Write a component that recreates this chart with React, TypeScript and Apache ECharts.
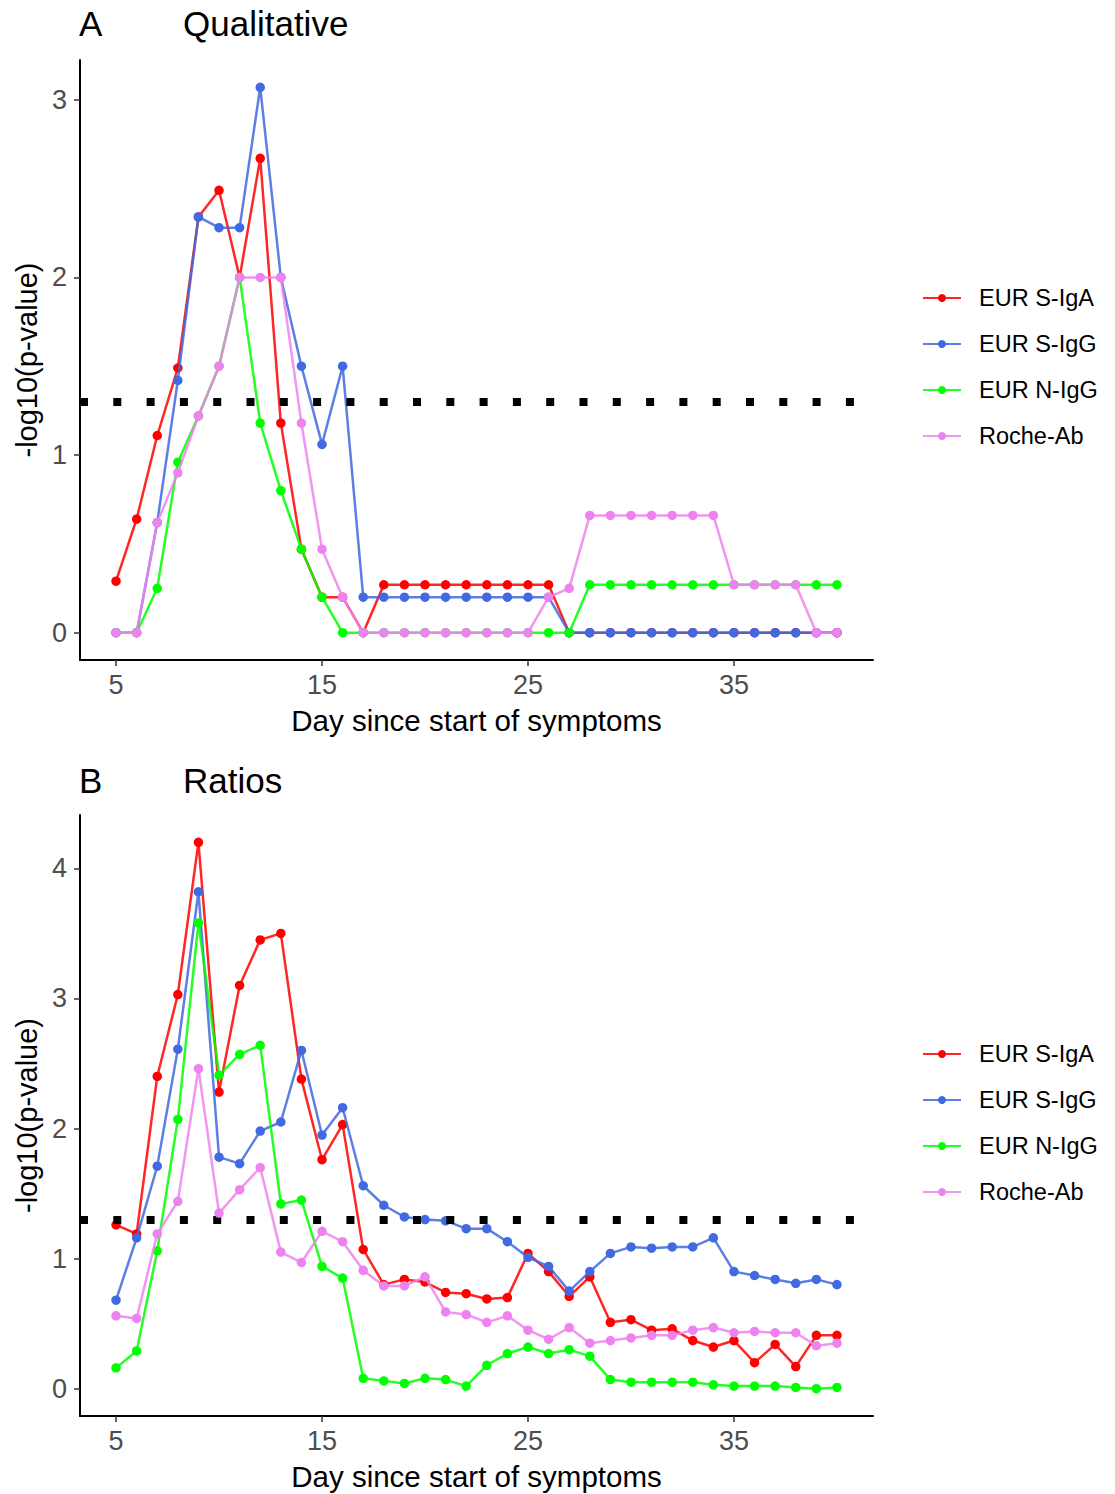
import React, { useEffect, useRef } from "react";
import * as echarts from "echarts";

const days = [5, 6, 7, 8, 9, 10, 11, 12, 13, 14, 15, 16, 17, 18, 19, 20, 21, 22, 23, 24, 25, 26, 27, 28, 29, 30, 31, 32, 33, 34, 35, 36, 37, 38, 39, 40];

const seriesNames = ["EUR S-IgA", "EUR S-IgG", "EUR N-IgG", "Roche-Ab"];
const seriesColors = ["#FF0000", "#4169E1", "#00FF00", "#EE82EE"];

// Panel A: Qualitative
const qualSIgA = [0.29, 0.64, 1.11, 1.49, 2.34, 2.49, 2.0, 2.67, 1.18, 0.47, 0.2, 0.2, 0, 0.27, 0.27, 0.27, 0.27, 0.27, 0.27, 0.27, 0.27, 0.27, 0, 0, 0, 0, 0, 0, 0, 0, 0, 0, 0, 0, 0, 0];
const qualSIgG = [0, 0, 0.62, 1.42, 2.34, 2.28, 2.28, 3.07, 2.0, 1.5, 1.06, 1.5, 0.2, 0.2, 0.2, 0.2, 0.2, 0.2, 0.2, 0.2, 0.2, 0.2, 0, 0, 0, 0, 0, 0, 0, 0, 0, 0, 0, 0, 0, 0];
const qualNIgG = [0, 0, 0.25, 0.96, 1.22, 1.5, 2.0, 1.18, 0.8, 0.47, 0.2, 0, 0, 0, 0, 0, 0, 0, 0, 0, 0, 0, 0, 0.27, 0.27, 0.27, 0.27, 0.27, 0.27, 0.27, 0.27, 0.27, 0.27, 0.27, 0.27, 0.27];
const qualRoche = [0, 0, 0.62, 0.9, 1.22, 1.5, 2.0, 2.0, 2.0, 1.18, 0.47, 0.2, 0, 0, 0, 0, 0, 0, 0, 0, 0, 0.2, 0.25, 0.66, 0.66, 0.66, 0.66, 0.66, 0.66, 0.66, 0.27, 0.27, 0.27, 0.27, 0, 0];

// Panel B: Ratios
const ratioSIgA = [1.26, 1.19, 2.4, 3.03, 4.2, 2.28, 3.1, 3.45, 3.5, 2.38, 1.76, 2.03, 1.07, 0.8, 0.84, 0.82, 0.74, 0.73, 0.69, 0.7, 1.04, 0.9, 0.71, 0.86, 0.51, 0.53, 0.45, 0.46, 0.37, 0.32, 0.37, 0.2, 0.34, 0.17, 0.41, 0.41];
const ratioSIgG = [0.68, 1.16, 1.71, 2.61, 3.82, 1.78, 1.73, 1.98, 2.05, 2.6, 1.95, 2.16, 1.56, 1.41, 1.32, 1.3, 1.29, 1.23, 1.23, 1.13, 1.01, 0.94, 0.75, 0.9, 1.04, 1.09, 1.08, 1.09, 1.09, 1.16, 0.9, 0.87, 0.84, 0.81, 0.84, 0.8];
const ratioNIgG = [0.16, 0.29, 1.06, 2.07, 3.58, 2.41, 2.57, 2.64, 1.42, 1.45, 0.94, 0.85, 0.08, 0.06, 0.04, 0.08, 0.07, 0.02, 0.18, 0.27, 0.32, 0.27, 0.3, 0.25, 0.07, 0.05, 0.05, 0.05, 0.05, 0.03, 0.02, 0.02, 0.02, 0.01, 0.0, 0.01];
const ratioRoche = [0.56, 0.54, 1.19, 1.44, 2.46, 1.35, 1.53, 1.7, 1.05, 0.97, 1.21, 1.13, 0.91, 0.79, 0.79, 0.86, 0.59, 0.57, 0.51, 0.56, 0.45, 0.38, 0.47, 0.35, 0.37, 0.39, 0.41, 0.41, 0.45, 0.47, 0.43, 0.44, 0.43, 0.43, 0.33, 0.35];

const xTicks = [5, 15, 25, 35];
const yTicksA = [0, 1, 2, 3];
const yTicksB = [0, 1, 2, 3, 4];
const threshold = 1.301;

const panelTitles = [
  { letter: "A", title: "Qualitative" },
  { letter: "B", title: "Ratios" },
];

const FONT = "'Liberation Sans', Arial, sans-serif";

function buildOption() {
  const panels = [
    { values: [qualSIgA, qualSIgG, qualNIgG, qualRoche], yMin: -0.1535, yMax: 3.2235, yTicks: yTicksA, top: 60, height: 600 },
    { values: [ratioSIgA, ratioSIgG, ratioNIgG, ratioRoche], yMin: -0.21, yMax: 4.41, yTicks: yTicksB, top: 815, height: 601 },
  ];

  const grid: any[] = [];
  const xAxis: any[] = [];
  const yAxis: any[] = [];
  const series: any[] = [];
  const legend: any[] = [];
  const title: any[] = [];

  panels.forEach((p, pi) => {
    grid.push({ left: 80, top: p.top, width: 793, height: p.height, containLabel: false });
    xAxis.push({
      type: "value",
      gridIndex: pi,
      min: 3.25,
      max: 41.75,
      name: "Day since start of symptoms",
      nameLocation: "middle",
      nameGap: 45,
      nameTextStyle: { fontSize: 29.5, color: "#000", fontFamily: FONT },
      axisLine: { show: true, onZero: false, lineStyle: { color: "#000", width: 2 } },
      axisTick: { show: true, length: 6, customValues: xTicks, lineStyle: { color: "#333", width: 1.5 } },
      axisLabel: { show: true, customValues: xTicks, fontSize: 27, color: "#4D4D4D", fontFamily: FONT, margin: 11 },
      splitLine: { show: false },
    });
    yAxis.push({
      type: "value",
      gridIndex: pi,
      min: p.yMin,
      max: p.yMax,
      name: "-log10(p-value)",
      nameLocation: "middle",
      nameGap: 37,
      nameTextStyle: { fontSize: 29, color: "#000", fontFamily: FONT },
      axisLine: { show: true, onZero: false, lineStyle: { color: "#000", width: 2 } },
      axisTick: { show: true, length: 6, customValues: p.yTicks, lineStyle: { color: "#333", width: 1.5 } },
      axisLabel: { show: true, customValues: p.yTicks, fontSize: 27, color: "#4D4D4D", fontFamily: FONT, margin: 13 },
      splitLine: { show: false },
    });
    p.values.forEach((vals, si) => {
      series.push({
        type: "line",
        name: seriesNames[si],
        xAxisIndex: pi,
        yAxisIndex: pi,
        data: days.map((d, i) => [d, vals[i]]),
        symbol: "circle",
        symbolSize: 9.5,
        showSymbol: true,
        color: seriesColors[si],
        itemStyle: { color: seriesColors[si] },
        lineStyle: { color: seriesColors[si], width: 2.5, opacity: 0.85 },
        z: 2 + si,
        emphasis: { disabled: true },
      });
    });
    series.push({
      type: "line",
      name: "threshold" + pi,
      xAxisIndex: pi,
      yAxisIndex: pi,
      data: [],
      z: 10,
      markLine: {
        silent: true,
        symbol: ["none", "none"],
        label: { show: false },
        lineStyle: { color: "#000", width: 8, type: [8, 25.3], cap: "butt" },
        emphasis: { disabled: true },
        data: [{ yAxis: threshold }],
      },
    });
    legend.push({
      orient: "vertical",
      left: 917,
      top: pi === 0 ? 281 : 1037,
      itemWidth: 38,
      itemHeight: 10,
      itemGap: 22,
      data: seriesNames,
      selectedMode: false,
      textStyle: { fontSize: 23.5, color: "#000", fontFamily: FONT, padding: [0, 0, 0, 13] },
    });
    const titleTop = pi === 0 ? 6 : 763;
    title.push({
      text: panelTitles[pi].letter,
      left: 79,
      top: titleTop,
      padding: 0,
      textStyle: { fontSize: 35, fontWeight: "normal", color: "#000", fontFamily: FONT },
    });
    title.push({
      text: panelTitles[pi].title,
      left: 183,
      top: titleTop,
      padding: 0,
      textStyle: { fontSize: 35, fontWeight: "normal", color: "#000", fontFamily: FONT },
    });
  });

  return {
    animation: false,
    backgroundColor: "#fff",
    textStyle: { fontFamily: FONT },
    title,
    grid,
    xAxis,
    yAxis,
    series,
    legend,
  };
}

export default function App() {
  const ref = useRef<HTMLDivElement>(null);
  useEffect(() => {
    document.body.style.margin = "0";
    if (!ref.current) return;
    const chart = echarts.init(ref.current, undefined, { renderer: "svg" });
    chart.setOption(buildOption() as any);
    return () => chart.dispose();
  }, []);
  return <div ref={ref} style={{ width: 1115, height: 1494 }} />;
}
